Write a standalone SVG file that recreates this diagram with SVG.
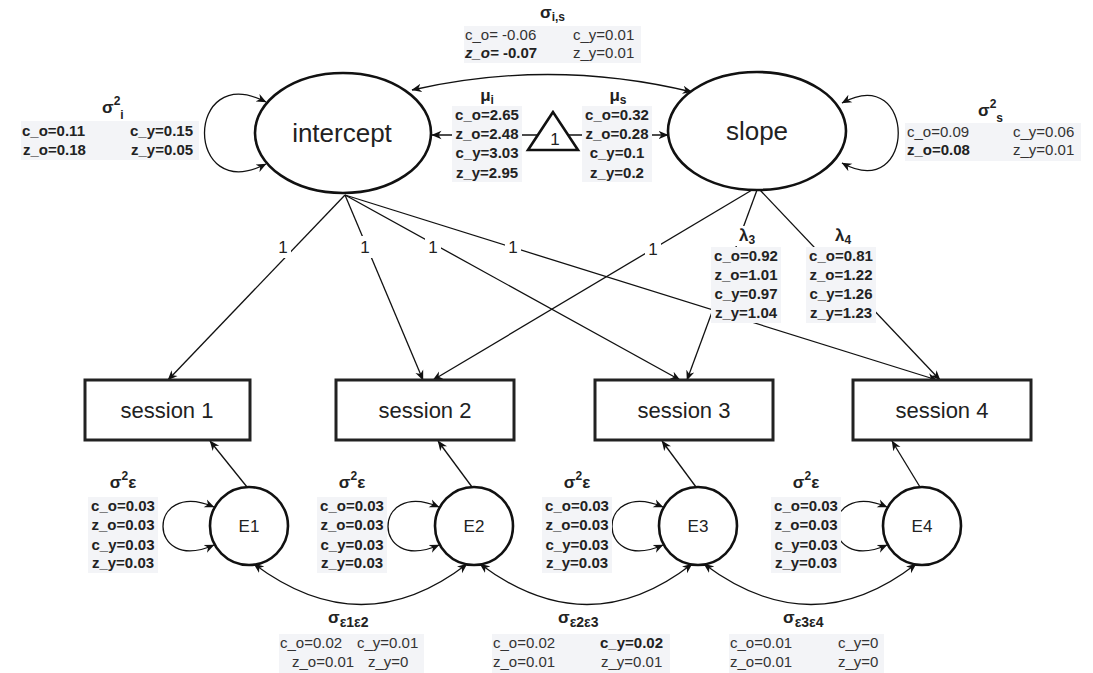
<svg xmlns="http://www.w3.org/2000/svg" width="1093" height="673" viewBox="0 0 1093 673">
<style>
text{font-family:"Liberation Sans",Arial,Helvetica,sans-serif;fill:#222}
.node{fill:#fff;stroke:#111;stroke-width:2.6}
.box{fill:#fff;stroke:#222;stroke-width:3}
.lbl{font-size:26px;text-anchor:middle}
.sl{font-size:22px;text-anchor:middle}
.el{font-size:17px;text-anchor:middle}
.c{fill:none;stroke:#111;stroke-width:1.3}
.bg{fill:#f3f4f7}
.wb{fill:#fff}
.t{font-size:15px;fill:#333}
.b{font-weight:bold;fill:#222}
.m{text-anchor:middle}
.sg{font-size:17px;font-weight:bold;fill:#222}
.sup{font-size:12px}
.sub2{font-size:14px}
.one{font-size:17px;text-anchor:middle;fill:#222}
</style>
<defs>
<marker id="a" viewBox="0 0 10 10" refX="9.5" refY="5" markerWidth="10" markerHeight="10" markerUnits="userSpaceOnUse" orient="auto-start-reverse">
<path d="M0,0.8 L10,5 L0,9.2 L3,5 z" fill="#111"/>
</marker>
</defs>

<g id="connectors">
<path class="c" d="M345,195 L168,380" marker-end="url(#a)"/>
<path class="c" d="M345,195 L423,380" marker-end="url(#a)"/>
<path class="c" d="M345,195 L680,380" marker-end="url(#a)"/>
<path class="c" d="M345,195 L937,380" marker-end="url(#a)"/>
<path class="c" d="M752,190 L433,380" marker-end="url(#a)"/>
<path class="c" d="M757,190 L687,380" marker-end="url(#a)"/>
<path class="c" d="M760,190 L940,380" marker-end="url(#a)"/>
<path class="c" d="M538,135 L432,135" marker-end="url(#a)"/>
<path class="c" d="M568,135 L668,135" marker-end="url(#a)"/>
<path class="c" d="M412,90 Q552,58 692,92" marker-start="url(#a)" marker-end="url(#a)"/>
<path class="c" d="M266,102 C184,60 184,206 266,164" marker-start="url(#a)" marker-end="url(#a)"/>
<path class="c" d="M842,103 C917,62 917,204 842,163" marker-start="url(#a)" marker-end="url(#a)"/>
<path class="c" d="M214,507 C146,478 146,575 214,545" marker-start="url(#a)" marker-end="url(#a)"/>
<path class="c" d="M439,507 C371,478 371,575 439,545" marker-start="url(#a)" marker-end="url(#a)"/>
<path class="c" d="M663,507 C595,478 595,575 663,545" marker-start="url(#a)" marker-end="url(#a)"/>
<path class="c" d="M887,507 C819,478 819,575 887,545" marker-start="url(#a)" marker-end="url(#a)"/>
<path class="c" d="M247,487 L210,441" marker-end="url(#a)"/>
<path class="c" d="M472,487 L438,441" marker-end="url(#a)"/>
<path class="c" d="M696,487 L662,441" marker-end="url(#a)"/>
<path class="c" d="M920,487 L892,441" marker-end="url(#a)"/>
<path class="c" d="M254,564 Q362,645 467,564" marker-start="url(#a)" marker-end="url(#a)"/>
<path class="c" d="M480,564 Q588,645 692,564" marker-start="url(#a)" marker-end="url(#a)"/>
<path class="c" d="M704,564 Q812,645 916,564" marker-start="url(#a)" marker-end="url(#a)"/>
</g>

<g id="edge-labels">
<rect class="wb" x="275" y="236" width="16" height="22"/><text class="one" x="283" y="253">1</text>
<rect class="wb" x="357" y="236" width="16" height="22"/><text class="one" x="365" y="253">1</text>
<rect class="wb" x="425" y="236" width="16" height="22"/><text class="one" x="433" y="253">1</text>
<rect class="wb" x="505" y="236" width="16" height="22"/><text class="one" x="513" y="253">1</text>
<rect class="wb" x="645" y="238" width="16" height="22"/><text class="one" x="653" y="255">1</text>

<text class="sg" x="540" y="18">σ<tspan class="sup" dy="3">i,s</tspan></text>
<rect class="bg" x="464" y="26" width="177" height="37"/>
<text class="t" x="465" y="40">c_o= -0.06</text>
<text class="t" x="573" y="40">c_y=0.01</text>
<text class="t b" x="465" y="58"><tspan font-style="italic">z_o=</tspan> -0.07</text>
<text class="t" x="573" y="58">z_y=0.01</text>

<text class="sg" x="102" y="113">σ<tspan class="sup" dy="-8">2</tspan><tspan class="sup" dy="14">i</tspan></text>
<rect class="bg" x="21" y="121" width="178" height="39"/>
<text class="t b" x="22" y="136">c_o=0.11</text>
<text class="t b" x="130" y="136">c_y=0.15</text>
<text class="t b" x="23" y="155">z_o=0.18</text>
<text class="t b" x="131" y="155">z_y=0.05</text>

<text class="sg" x="978" y="116">σ<tspan class="sup" dy="-8">2</tspan><tspan class="sup" dy="14">s</tspan></text>
<rect class="bg" x="905" y="123" width="176" height="38"/>
<text class="t" x="907" y="137">c_o=0.09</text>
<text class="t" x="1013" y="137">c_y=0.06</text>
<text class="t b" x="907" y="155">z_o=0.08</text>
<text class="t" x="1013" y="155">z_y=0.01</text>

<text class="sg m" x="487" y="101">μ<tspan class="sup" dy="3">i</tspan></text>
<rect class="bg" x="452" y="106" width="70" height="76"/>
<text class="t b m" x="487" y="120">c_o=2.65</text>
<text class="t b m" x="487" y="139">z_o=2.48</text>
<text class="t b m" x="487" y="158">c_y=3.03</text>
<text class="t b m" x="487" y="178">z_y=2.95</text>

<text class="sg m" x="618" y="101">μ<tspan class="sup" dy="3">s</tspan></text>
<rect class="bg" x="582" y="106" width="70" height="76"/>
<text class="t b m" x="617" y="120">c_o=0.32</text>
<text class="t b m" x="617" y="139">z_o=0.28</text>
<text class="t b m" x="617" y="158">c_y=0.1</text>
<text class="t b m" x="617" y="178">z_y=0.2</text>

<rect class="wb" x="733" y="226" width="26" height="20"/>
<text class="sg m" x="747" y="241">λ<tspan class="sup" dy="3">3</tspan></text>
<rect class="bg" x="711" y="247" width="70" height="76"/>
<text class="t b m" x="746" y="261">c_o=0.92</text>
<text class="t b m" x="746" y="280">z_o=1.01</text>
<text class="t b m" x="746" y="299">c_y=0.97</text>
<text class="t b m" x="746" y="318">z_y=1.04</text>

<text class="sg m" x="843" y="241">λ<tspan class="sup" dy="3">4</tspan></text>
<rect class="bg" x="806" y="247" width="70" height="76"/>
<text class="t b m" x="841" y="261">c_o=0.81</text>
<text class="t b m" x="841" y="280">z_o=1.22</text>
<text class="t b m" x="841" y="299">c_y=1.26</text>
<text class="t b m" x="841" y="318">z_y=1.23</text>

<text class="sg m" x="123" y="488">σ<tspan class="sup" dy="-8">2</tspan><tspan dy="8">ε</tspan></text>
<rect class="bg" x="88" y="497" width="70" height="76"/>
<text class="t b m" x="123" y="511">c_o=0.03</text>
<text class="t b m" x="123" y="530">z_o=0.03</text>
<text class="t b m" x="123" y="550">c_y=0.03</text>
<text class="t b m" x="123" y="568">z_y=0.03</text>

<text class="sg m" x="352" y="488">σ<tspan class="sup" dy="-8">2</tspan><tspan dy="8">ε</tspan></text>
<rect class="bg" x="317" y="497" width="70" height="76"/>
<text class="t b m" x="352" y="511">c_o=0.03</text>
<text class="t b m" x="352" y="530">z_o=0.03</text>
<text class="t b m" x="352" y="550">c_y=0.03</text>
<text class="t b m" x="352" y="568">z_y=0.03</text>

<text class="sg m" x="577" y="488">σ<tspan class="sup" dy="-8">2</tspan><tspan dy="8">ε</tspan></text>
<rect class="bg" x="542" y="497" width="70" height="76"/>
<text class="t b m" x="577" y="511">c_o=0.03</text>
<text class="t b m" x="577" y="530">z_o=0.03</text>
<text class="t b m" x="577" y="550">c_y=0.03</text>
<text class="t b m" x="577" y="568">z_y=0.03</text>

<text class="sg m" x="806" y="488">σ<tspan class="sup" dy="-8">2</tspan><tspan dy="8">ε</tspan></text>
<rect class="bg" x="771" y="497" width="70" height="76"/>
<text class="t b m" x="806" y="511">c_o=0.03</text>
<text class="t b m" x="806" y="530">z_o=0.03</text>
<text class="t b m" x="806" y="550">c_y=0.03</text>
<text class="t b m" x="806" y="568">z_y=0.03</text>

<text class="sg" x="328" y="623">σ<tspan class="sub2" dy="4">ε1ε2</tspan></text>
<rect class="bg" x="279" y="634" width="145" height="39"/>
<text class="t" x="280" y="648">c_o=0.02</text>
<text class="t" x="357" y="648">c_y=0.01</text>
<text class="t" x="292" y="667">z_o=0.01</text>
<text class="t" x="368" y="667">z_y=0</text>

<text class="sg" x="558" y="623">σ<tspan class="sub2" dy="4">ε2ε3</tspan></text>
<rect class="bg" x="492" y="634" width="178" height="39"/>
<text class="t" x="493" y="648">c_o=0.02</text>
<text class="t b" x="600" y="648">c_y=0.02</text>
<text class="t" x="493" y="667">z_o=0.01</text>
<text class="t" x="601" y="667">z_y=0.01</text>

<text class="sg" x="783" y="623">σ<tspan class="sub2" dy="4">ε3ε4</tspan></text>
<rect class="bg" x="729" y="634" width="155" height="39"/>
<text class="t" x="730" y="648">c_o=0.01</text>
<text class="t" x="838" y="648">c_y=0</text>
<text class="t" x="730" y="667">z_o=0.01</text>
<text class="t" x="838" y="667">z_y=0</text>
</g>

<g id="intercept"><ellipse class="node" cx="343" cy="133" rx="88" ry="60"/><text class="lbl" x="342" y="142">intercept</text></g>
<g id="slope"><ellipse class="node" cx="757" cy="131" rx="89" ry="59"/><text class="lbl" x="757" y="140">slope</text></g>
<g id="constant"><polygon class="node" points="553,112 528,150 578,150" stroke-width="2.4"/><text class="one" x="555" y="145">1</text></g>
<g id="session1"><rect class="box" x="85" y="380" width="165" height="60"/><text class="sl" x="167" y="418">session 1</text></g>
<g id="session2"><rect class="box" x="336" y="380" width="178" height="60"/><text class="sl" x="425" y="418">session 2</text></g>
<g id="session3"><rect class="box" x="595" y="380" width="178" height="60"/><text class="sl" x="684" y="418">session 3</text></g>
<g id="session4"><rect class="box" x="853" y="380" width="178" height="60"/><text class="sl" x="942" y="418">session 4</text></g>
<g id="E1"><circle class="node" cx="249" cy="526" r="39"/><text class="el" x="249" y="532">E1</text></g>
<g id="E2"><circle class="node" cx="474" cy="526" r="39"/><text class="el" x="474" y="532">E2</text></g>
<g id="E3"><circle class="node" cx="698" cy="526" r="39"/><text class="el" x="698" y="532">E3</text></g>
<g id="E4"><circle class="node" cx="922" cy="526" r="39"/><text class="el" x="922" y="532">E4</text></g>
</svg>
